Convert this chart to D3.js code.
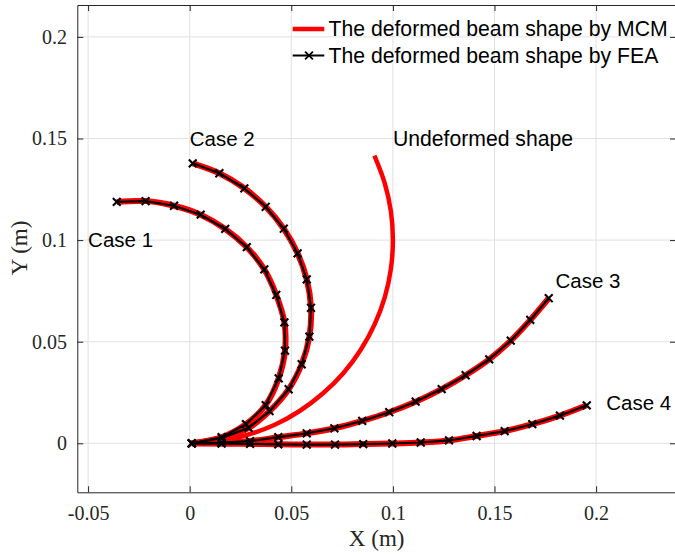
<!DOCTYPE html>
<html>
<head>
<meta charset="utf-8">
<script src="https://cdn.jsdelivr.net/npm/d3@7/dist/d3.min.js"></script>
<style>
  html, body { margin: 0; padding: 0; background: #fff; }
  svg { display: block; }
</style>
</head>
<body>
<svg id="chart" width="675" height="554"></svg>
<script>
// ---------------- data (metres) ----------------
const xTicks = [-0.05, 0, 0.05, 0.1, 0.15, 0.2];
const yTicks = [0, 0.05, 0.1, 0.15, 0.2];
const xTickLabels = ["-0.05", "0", "0.05", "0.1", "0.15", "0.2"];
const yTickLabels = ["0", "0.05", "0.1", "0.15", "0.2"];

// node positions of the deformed beams (FEA nodes; MCM curve passes through them)
const case1X = [0.0010, 0.0157, 0.0277, 0.0374, 0.0438, 0.0469, 0.0466, 0.0426, 0.0367, 0.0281, 0.0175, 0.0054, -0.0077, -0.0217, -0.0359];
const case1Y = [0.0000, 0.0030, 0.0094, 0.0188, 0.0320, 0.0456, 0.0595, 0.0730, 0.0856, 0.0965, 0.1055, 0.1125, 0.1169, 0.1192, 0.1188];

const case2X = [0.0010, 0.0159, 0.0290, 0.0393, 0.0487, 0.0551, 0.0589, 0.0597, 0.0576, 0.0531, 0.0463, 0.0374, 0.0269, 0.0146, 0.0015];
const case2Y = [0.0000, 0.0026, 0.0076, 0.0158, 0.0266, 0.0389, 0.0525, 0.0667, 0.0807, 0.0935, 0.1056, 0.1164, 0.1255, 0.1329, 0.1378];

const case3X = [0.0010, 0.0156, 0.0297, 0.0436, 0.0576, 0.0712, 0.0849, 0.0982, 0.1112, 0.1240, 0.1358, 0.1474, 0.1580, 0.1676, 0.1767];
const case3Y = [0.0000, 0.0003, 0.0011, 0.0030, 0.0049, 0.0074, 0.0110, 0.0153, 0.0205, 0.0267, 0.0335, 0.0413, 0.0505, 0.0607, 0.0714];

const case4X = [0.0010, 0.0157, 0.0297, 0.0436, 0.0576, 0.0715, 0.0854, 0.0997, 0.1137, 0.1276, 0.1412, 0.1550, 0.1686, 0.1822, 0.1954];
const case4Y = [0.0000, -0.0002, -0.0003, -0.0005, -0.0006, -0.0006, -0.0004, -0.0001, 0.0004, 0.0014, 0.0036, 0.0060, 0.0094, 0.0136, 0.0187];

// undeformed (initially curved) beam
const undefX = [0.0000, 0.0142, 0.0282, 0.0416, 0.0541, 0.0655, 0.0756, 0.0842, 0.0910, 0.0960, 0.0990, 0.1000, 0.0990, 0.0959, 0.0909];
const undefY = [0.0000, 0.0010, 0.0041, 0.0090, 0.0159, 0.0245, 0.0345, 0.0460, 0.0585, 0.0718, 0.0858, 0.1001, 0.1143, 0.1283, 0.1416];

const caseLabels = ["Case 1", "Case 2", "Case 3", "Case 4", "Undeformed shape"];
const labelX = [-0.05, 0.0, 0.18, 0.205, 0.1];
const labelY = [0.1, 0.15, 0.08, 0.02, 0.15];
const labelSize = [20.5, 20.5, 20.5, 20.5, 21.2];

const legendLabels = ["The deformed beam shape by MCM", "The deformed beam shape by FEA"];

// ---------------- layout ----------------
const svg = d3.select("#chart");
const plot = { left: 77.3, right: 676, top: 5, bottom: 492.3 };
const xDomain = [-0.05531, 0.23932];
const yDomain = [-0.02411, 0.2157];

const x = d3.scaleLinear().domain(xDomain).range([plot.left, plot.right]);
const y = d3.scaleLinear().domain(yDomain).range([plot.bottom, plot.top]);

const axisColor = "#262626";
const serif = "'Liberation Serif', 'Times New Roman', serif";
const sans = "'Liberation Sans', Arial, Helvetica, sans-serif";

svg.append("defs").append("clipPath").attr("id", "clip")
  .append("rect")
  .attr("x", plot.left).attr("y", plot.top)
  .attr("width", plot.right - plot.left).attr("height", plot.bottom - plot.top);

// grid
const grid = svg.append("g").attr("stroke", "#e1e1e1").attr("stroke-width", 1);
grid.selectAll(".gx").data(xTicks).join("line")
  .attr("x1", d => x(d)).attr("x2", d => x(d))
  .attr("y1", plot.top).attr("y2", plot.bottom);
grid.selectAll(".gy").data(yTicks).join("line")
  .attr("y1", d => y(d)).attr("y2", d => y(d))
  .attr("x1", plot.left).attr("x2", plot.right);

// axes
function styleAxis(g) {
  g.select(".domain").attr("stroke", axisColor).attr("stroke-width", 1);
  g.selectAll(".tick line").attr("stroke", axisColor).attr("stroke-width", 1);
  g.selectAll(".tick text").attr("fill", axisColor)
    .attr("font-family", serif).attr("font-size", 20);
}
const xAxis = d3.axisBottom(x).tickValues(xTicks)
  .tickFormat((d, i) => xTickLabels[i]).tickSizeInner(-6).tickSizeOuter(0).tickPadding(13.5);
svg.append("g").attr("transform", `translate(0,${plot.bottom})`).call(xAxis).call(styleAxis);

const xAxisTop = d3.axisTop(x).tickValues(xTicks).tickFormat("").tickSizeInner(-6).tickSizeOuter(0);
svg.append("g").attr("transform", `translate(0,${plot.top})`).call(xAxisTop).call(styleAxis);

const yAxis = d3.axisLeft(y).tickValues(yTicks)
  .tickFormat((d, i) => yTickLabels[i]).tickSizeInner(-6).tickSizeOuter(0).tickPadding(10.3);
svg.append("g").attr("transform", `translate(${plot.left},0)`).call(yAxis).call(styleAxis);

const yAxisRight = d3.axisRight(y).tickValues(yTicks).tickFormat("").tickSizeInner(-6).tickSizeOuter(0);
svg.append("g").attr("transform", `translate(${plot.right},0)`).call(yAxisRight).call(styleAxis);

// axis titles
svg.append("text").attr("x", (plot.left + plot.right) / 2).attr("y", 546)
  .attr("text-anchor", "middle").attr("font-family", serif).attr("font-size", 23)
  .attr("fill", axisColor).text("X (m)");
svg.append("text").attr("transform", "translate(27,248) rotate(-90)")
  .attr("text-anchor", "middle").attr("font-family", serif).attr("font-size", 23)
  .attr("fill", axisColor).text("Y (m)");

// curves
const plotG = svg.append("g").attr("clip-path", "url(#clip)");
const zip = (xs, ys) => xs.map((v, i) => [v, ys[i]]);
const cases = [zip(case1X, case1Y), zip(case2X, case2Y), zip(case3X, case3Y), zip(case4X, case4Y)];
const undeformed = zip(undefX, undefY);

const smooth = d3.line().x(d => x(d[0])).y(d => y(d[1])).curve(d3.curveCatmullRom.alpha(0.5));
const straight = d3.line().x(d => x(d[0])).y(d => y(d[1]));

plotG.append("path").datum(undeformed).attr("d", smooth)
  .attr("fill", "none").attr("stroke", "#ff0000").attr("stroke-width", 4.5);

plotG.selectAll(".mcm").data(cases).join("path")
  .attr("d", smooth).attr("fill", "none")
  .attr("stroke", "#ff0000").attr("stroke-width", 6).attr("stroke-linejoin", "round");

plotG.selectAll(".fea").data(cases).join("path")
  .attr("d", straight).attr("fill", "none")
  .attr("stroke", "#000").attr("stroke-width", 2.2).attr("stroke-linejoin", "round");

const ms = 3.9;
const markerPath = `M${-ms},${-ms}L${ms},${ms}M${-ms},${ms}L${ms},${-ms}`;
cases.forEach(pts => {
  plotG.append("g").selectAll("path").data(pts).join("path")
    .attr("transform", d => `translate(${x(d[0])},${y(d[1])})`)
    .attr("d", markerPath).attr("stroke", "#000").attr("stroke-width", 2.1).attr("fill", "none");
});

// annotations
svg.append("g").selectAll("text").data(caseLabels).join("text")
  .attr("x", (d, i) => x(labelX[i])).attr("y", (d, i) => y(labelY[i]))
  .attr("dy", "0.35em")
  .attr("font-family", sans).attr("font-size", (d, i) => labelSize[i]).attr("fill", "#000")
  .text(d => d);

// legend
const lg = svg.append("g");
const legY = [29, 55.5];
lg.append("line").attr("x1", 292.7).attr("x2", 324.3).attr("y1", legY[0]).attr("y2", legY[0])
  .attr("stroke", "#ff0000").attr("stroke-width", 4.5);
lg.append("line").attr("x1", 292.7).attr("x2", 324.3).attr("y1", legY[1]).attr("y2", legY[1])
  .attr("stroke", "#000").attr("stroke-width", 1.8);
lg.append("path").attr("transform", `translate(309,${legY[1]})`).attr("d", markerPath)
  .attr("stroke", "#000").attr("stroke-width", 1.8);
lg.selectAll("text").data(legendLabels).join("text")
  .attr("x", 328.5).attr("y", (d, i) => legY[i]).attr("dy", "0.35em")
  .attr("font-family", sans).attr("font-size", 21.2).attr("fill", "#000")
  .text(d => d);
</script>
</body>
</html>
